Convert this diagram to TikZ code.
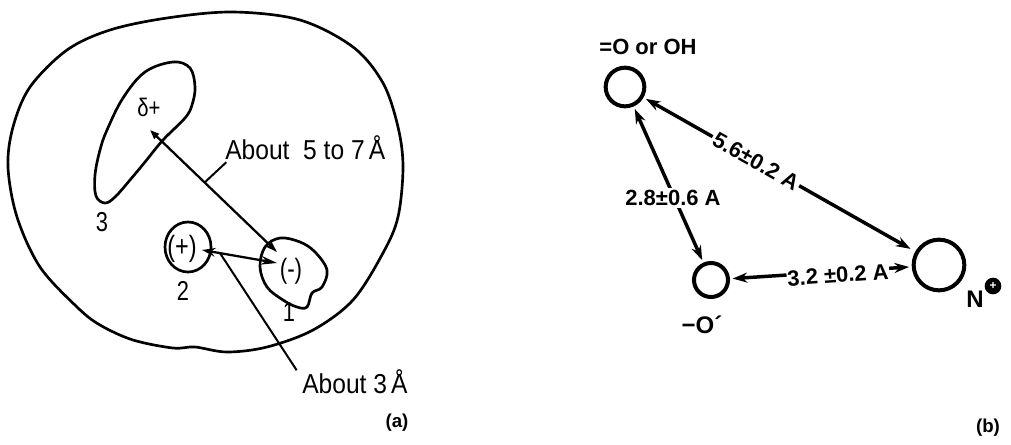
\documentclass[tikz,border=0pt]{standalone}
\usepackage{fontspec}
\usepackage{graphicx}
\setmainfont{Liberation Sans}
\usetikzlibrary{arrows.meta,calc}
\newcommand\condtxt[1]{\scalebox{0.8}[1]{#1}}
\newcommand\widetxt[1]{\scalebox{0.9}[1]{#1}}
\begin{document}
\begin{tikzpicture}[x=0.75pt,y=-0.75pt,
  blob/.style={line width=2pt, line join=round},
  conn/.style={line width=1.7pt},
  atext/.style={font=\fontsize{20.5}{22}\selectfont, inner sep=0pt},
  btext/.style={font=\bfseries\fontsize{16.5}{18}\selectfont, inner sep=1.5pt},
  ring/.style={circle, draw, line width=3pt, inner sep=0pt},
  barrow/.style={line width=2.6pt, {Stealth[length=11pt,width=7.5pt]}-{Stealth[length=11pt,width=7.5pt]}},
  sublab/.style={font=\bfseries\fontsize{14}{15}\selectfont, inner sep=0pt},
]
\useasboundingbox (0,0) rectangle (1011,444);

% ---------- panel (a) ----------
\draw[blob] plot[smooth cycle, tension=0.55] coordinates {(233,12) (300,20) (353,47) (383,83) (398,127) (403,167) (398,217) (383,253) (353,300) (313,330) (267,347) (227,352) (195,347) (173,348) (133,340) (100,325) (77,307) (40,267) (17,217) (8,167) (13,127) (30,87) (67,50) (110,30) (167,18)};
\draw[blob] plot[smooth cycle, tension=0.6] coordinates {(173,62) (190,68) (195,87) (192,105) (185,118) (163,140) (145,162) (130,180) (115,197) (105,203) (96,196) (95,175) (100,150) (107,130) (123,98) (145,72)};
\draw[blob] (188,247) ellipse [x radius=23, y radius=25];
\draw[blob] plot[smooth cycle, tension=0.6] coordinates {(280,238) (300,242) (315,252) (327,270) (322,287) (312,293) (307,307) (297,307) (283,300) (267,287) (260,267) (265,247)};

\node[atext] (dplus) at (149,107) {\condtxt{\fontsize{19}{20}\selectfont δ+}};
\node[atext] (pos) at (182,249) {\condtxt{\fontsize{22}{24}\selectfont (+)}};
\node[atext] (neg) at (291,271) {\condtxt{\fontsize{21}{24}\selectfont (-)}};
\node[atext] (n3) at (102,222) {\condtxt{3}};
\node[atext] (n2) at (183,291) {\condtxt{2}};
\node[atext] (n1) at (289,312) {\condtxt{1}};

\coordinate (dtip) at (150,130);
\coordinate (mtip) at (277,252);
\coordinate (ptip) at (202,250);
\coordinate (m2tip) at (277,263);
\draw[conn, {Triangle[open,length=7pt,width=5pt]}-{Stealth[length=10pt,width=6.5pt]}] (dtip) -- (mtip);
\draw[conn, {Stealth[length=10pt,width=6.5pt]}-{Stealth[length=12pt,width=6.5pt]}] (ptip) -- (m2tip);

\node[atext, anchor=base west] (t1) at (225,159) {\widetxt{About\ \ 5 to 7\,Å}};
\node[atext, anchor=base west] (t2) at (302,393) {\widetxt{About 3\,Å}};
\coordinate (l1) at ($(dtip)!0.43!(mtip)$);
\coordinate (l2) at ($(ptip)!0.24!(m2tip)$);
\draw[conn, line width=1.5pt] (l1) -- ([xshift=1pt,yshift=-2pt]t1.south west);
\draw[conn, line width=1.5pt] (l2) -- ([xshift=-4pt,yshift=-1pt]t2.north west);

\node[sublab] (a) at (397,423) {(a)};

% ---------- panel (b) ----------
\node[ring, minimum size=29pt] (O1) at (625,87) {};
\node[ring, minimum size=25.5pt] (O2) at (711,280) {};
\node[ring, minimum size=38pt] (N) at (939,265) {};

\draw[barrow, shorten <=2pt, shorten >=4pt] (O1) -- (N);
\draw[barrow, shorten <=2pt, shorten >=2pt] (O1) -- (O2);
\draw[barrow, shorten <=2pt, shorten >=2pt] (O2) -- (N);

\node[btext, fill=white, rotate=-29.5] (l56) at (756,161) {5.6±0.2 A};
\node[btext, fill=white] (l28) at (673,198) {2.8±0.6 A};
\node[btext, fill=white, rotate=4, inner sep=0.5pt] (l32) at (838,275) {3.2 ±0.2 A};

\node[btext, font=\bfseries\fontsize{16.5}{17}\selectfont] (lO1) at (648,47) {=O or OH};
\node[btext, font=\bfseries\fontsize{18}{19}\selectfont] (lO2) at (702,325) {−O´};
\node[btext, font=\bfseries\fontsize{18}{19}\selectfont] (lN) at (975,299) {N};
\node[circle, fill=black, inner sep=0pt, minimum size=12.5pt, text=white, font=\bfseries\fontsize{9}{9}\selectfont] (plus) at (993,286) {+};

\node[sublab] (b) at (988,428) {(b)};
\end{tikzpicture}
\end{document}
